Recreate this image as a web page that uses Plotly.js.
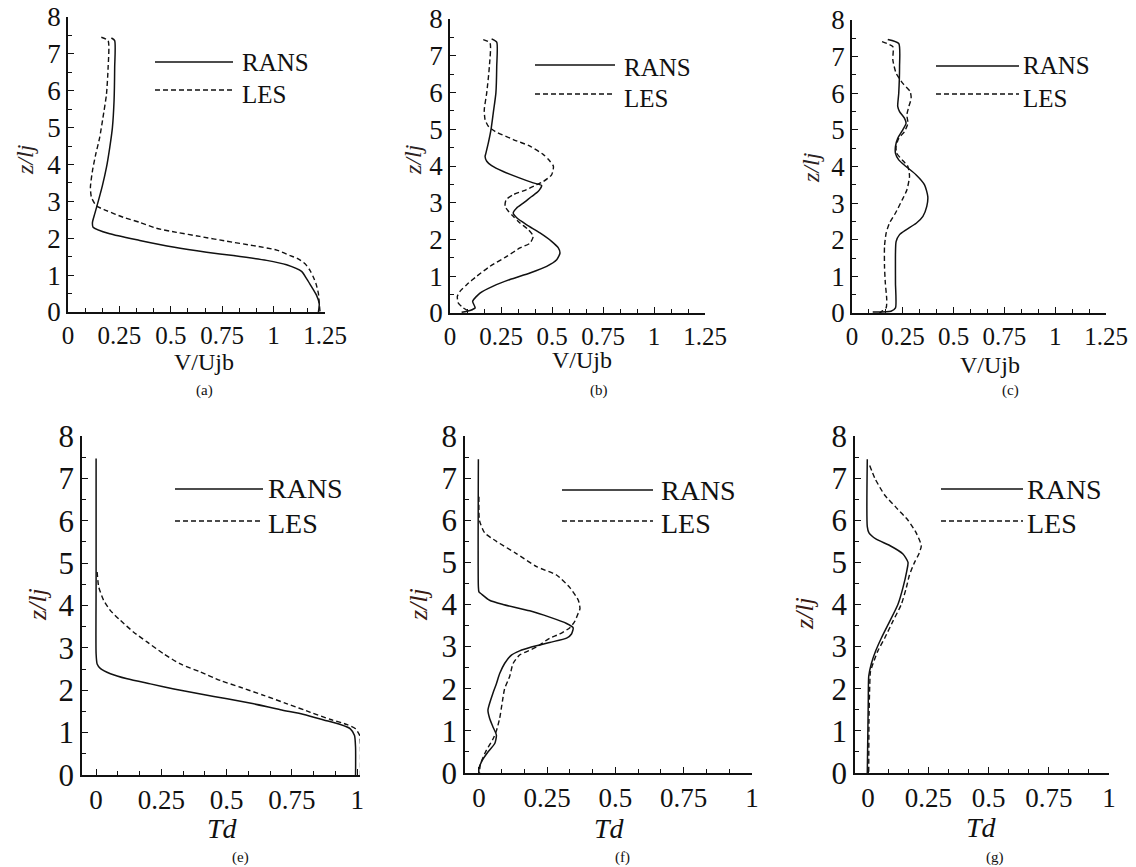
<!DOCTYPE html>
<html>
<head>
<meta charset="utf-8">
<script src="https://cdn.plot.ly/plotly-3.0.1.min.js"></script>
</head>
<body style="margin:0">
<div id="chart" style="width:1136px;height:867px"></div>
<script>
// ---------- data ----------
// (a) V/Ujb
const aRansX = [0.211,0.227,0.227,0.224,0.216,0.203,0.187,0.167,0.148,0.130,0.119,0.122,0.203,0.349,0.511,0.674,0.804,0.966,1.063,1.136,1.161,1.185,1.209,1.222,1.218];
const aRansZ = [7.43,7.36,6.62,5.72,5.00,4.46,3.92,3.42,3.02,2.66,2.43,2.30,2.12,1.94,1.76,1.62,1.53,1.40,1.28,1.10,0.90,0.68,0.45,0.23,0.00];
const aLesX = [0.162,0.195,0.195,0.187,0.170,0.154,0.135,0.119,0.109,0.114,0.138,0.187,0.268,0.349,0.430,0.528,0.641,0.771,0.901,1.015,1.080,1.120,1.153,1.177,1.193,1.206,1.218,1.222,1.226];
const aLesZ = [7.45,7.36,6.62,5.90,5.27,4.73,4.28,3.83,3.38,3.11,2.88,2.75,2.57,2.43,2.27,2.16,2.05,1.92,1.80,1.68,1.53,1.44,1.31,1.13,0.95,0.77,0.50,0.23,0.00];
// (b) V/Ujb
const bRansX = [0.204,0.229,0.229,0.225,0.212,0.201,0.188,0.176,0.172,0.180,0.204,0.261,0.343,0.408,0.449,0.433,0.400,0.359,0.327,0.310,0.327,0.376,0.441,0.498,0.531,0.539,0.523,0.474,0.392,0.294,0.212,0.147,0.111,0.123,0.098,0.057];
const bRansZ = [7.46,7.37,6.71,5.99,5.44,4.99,4.63,4.35,4.26,4.13,4.01,3.85,3.67,3.54,3.47,3.31,3.17,2.99,2.86,2.72,2.59,2.40,2.18,1.95,1.77,1.63,1.45,1.27,1.09,0.91,0.73,0.54,0.32,0.14,0.07,0.02];
const bLesX = [0.163,0.196,0.193,0.180,0.168,0.172,0.188,0.221,0.310,0.392,0.458,0.490,0.507,0.498,0.458,0.425,0.376,0.310,0.275,0.270,0.286,0.310,0.343,0.384,0.408,0.392,0.343,0.278,0.196,0.131,0.082,0.049,0.036,0.041,0.065,0.098];
const bLesZ = [7.44,7.35,6.71,5.99,5.53,5.26,5.08,4.94,4.72,4.54,4.31,4.13,3.99,3.76,3.58,3.49,3.36,3.22,3.08,2.90,2.77,2.63,2.45,2.27,2.09,1.90,1.77,1.54,1.27,1.00,0.77,0.59,0.45,0.27,0.14,0.03];
// (c) V/Ujb
const cRansX = [0.176,0.230,0.234,0.230,0.225,0.234,0.258,0.266,0.250,0.225,0.214,0.214,0.230,0.266,0.316,0.357,0.373,0.368,0.349,0.316,0.266,0.234,0.217,0.214,0.214,0.214,0.192,0.102];
const cRansZ = [7.47,7.36,6.73,6.00,5.64,5.50,5.32,5.18,5.00,4.77,4.55,4.36,4.18,4.00,3.77,3.50,3.18,2.91,2.64,2.45,2.27,2.14,1.95,1.64,0.82,0.14,0.05,0.03];
const cLesX = [0.148,0.201,0.201,0.217,0.250,0.286,0.291,0.280,0.270,0.275,0.258,0.230,0.217,0.220,0.247,0.275,0.283,0.270,0.247,0.214,0.184,0.168,0.160,0.160,0.164,0.171,0.168,0.148,0.135];
const cLesZ = [7.41,7.27,6.91,6.55,6.27,6.05,5.86,5.64,5.41,5.18,4.95,4.77,4.55,4.36,4.18,4.00,3.73,3.36,3.09,2.73,2.45,2.18,1.82,1.27,0.82,0.36,0.14,0.05,0.00];
// (e) Td
const eRansX = [0,0,0,0.004,0.017,0.055,0.119,0.208,0.298,0.400,0.502,0.604,0.706,0.796,0.872,0.936,0.974,0.990,0.994,0.994];
const eRansZ = [7.47,4.44,2.86,2.62,2.51,2.39,2.27,2.15,2.03,1.91,1.80,1.68,1.54,1.43,1.30,1.19,1.09,0.93,0.65,0.00];
const eLesX = [0.004,0.010,0.029,0.055,0.093,0.144,0.195,0.259,0.323,0.400,0.476,0.553,0.642,0.732,0.821,0.898,0.962,0.994,1.010,1.013,1.013];
const eLesZ = [4.79,4.44,4.12,3.88,3.65,3.37,3.14,2.86,2.62,2.43,2.23,2.07,1.88,1.68,1.48,1.31,1.19,1.09,0.93,0.65,0.00];
// (f) Td
const fRansX = [-0.002,-0.002,0.000,0.009,0.039,0.088,0.186,0.259,0.321,0.345,0.339,0.321,0.259,0.192,0.149,0.119,0.094,0.076,0.064,0.051,0.039,0.033,0.039,0.051,0.064,0.058,0.033,0.012,0.000,0.000];
const fRansZ = [7.45,4.42,4.30,4.25,4.10,4.00,3.85,3.70,3.55,3.45,3.30,3.20,3.10,2.99,2.90,2.80,2.60,2.36,2.12,1.89,1.65,1.49,1.30,1.10,0.90,0.70,0.50,0.30,0.10,0.00];
const fLesX = [0.000,0.002,0.021,0.064,0.137,0.211,0.284,0.333,0.364,0.370,0.364,0.351,0.333,0.296,0.259,0.211,0.149,0.125,0.113,0.094,0.086,0.076,0.064,0.051,0.024,0.005,0.002];
const fLesZ = [6.56,6.00,5.70,5.50,5.21,4.90,4.70,4.40,4.10,3.90,3.80,3.60,3.45,3.30,3.20,2.99,2.80,2.60,2.30,2.00,1.70,1.30,1.00,0.80,0.50,0.20,0.00];
// (g) Td
const gRansX = [-0.003,-0.003,0.004,0.034,0.090,0.145,0.166,0.161,0.145,0.124,0.090,0.055,0.032,0.014,0.003,0.001,-0.003];
const gRansZ = [7.45,5.85,5.70,5.55,5.40,5.20,5.00,4.80,4.40,4.00,3.60,3.20,2.90,2.60,2.30,1.66,0.00];
const gLesX = [0.007,0.028,0.069,0.117,0.166,0.200,0.221,0.211,0.193,0.172,0.159,0.138,0.103,0.069,0.041,0.021,0.010,0.007,0.004,0.003];
const gLesZ = [7.30,7.00,6.60,6.30,6.00,5.70,5.40,5.20,5.00,4.70,4.40,4.00,3.60,3.20,2.90,2.60,2.40,2.05,1.26,0.00];

const seriesNames = ['RANS','LES'];
const panelLabels = ['(a)','(b)','(c)','(e)','(f)','(g)'];
const topXTicks = [0,0.25,0.5,0.75,1,1.25];
const botXTicks = [0,0.25,0.5,0.75,1];
const yTicks = [0,1,2,3,4,5,6,7,8];

// ---------- layout helpers ----------
const W = 1136, H = 867;
const px = v => v / W;
const py = v => 1 - v / H;
const INK = '#111';
const fnt = (size, color) => ({family: 'Liberation Serif', size: size, color: color || INK});

const panels = [
  {box:[68,325,17,312],  xr:[0,1.25],   ticks:topXTicks, row:0},
  {box:[450,705,19,313], xr:[0,1.25],   ticks:topXTicks, row:0},
  {box:[852,1106,20,313],xr:[0,1.25],   ticks:topXTicks, row:0},
  {box:[82,360,436,775], xr:[-0.054,1.011], ticks:botXTicks, row:1},
  {box:[465,752,436,773],xr:[-0.051,1.0],   ticks:botXTicks, row:1},
  {box:[855,1109,436,773],xr:[-0.054,1.0],  ticks:botXTicks, row:1}
];
const data = [
  [aRansX,aRansZ,aLesX,aLesZ],
  [bRansX,bRansZ,bLesX,bLesZ],
  [cRansX,cRansZ,cLesX,cLesZ],
  [eRansX,eRansZ,eLesX,eLesZ],
  [fRansX,fRansZ,fLesX,fLesZ],
  [gRansX,gRansZ,gLesX,gLesZ]
];

const traces = [];
const layout = {
  width: W, height: H,
  margin: {l:0,r:0,t:0,b:0},
  showlegend: false,
  annotations: [], shapes: []
};
panels.forEach((p, i) => {
  const n = i === 0 ? '' : String(i + 1);
  const d = data[i];
  const big = p.row === 1;
  traces.push({x: d[0], y: d[1], xaxis: 'x' + n, yaxis: 'y' + n, name: seriesNames[0], mode: 'lines',
    line: {color: INK, width: 1.5, shape: 'spline', smoothing: 0.6}, hoverinfo: 'skip'});
  traces.push({x: d[2], y: d[3], xaxis: 'x' + n, yaxis: 'y' + n, name: seriesNames[1], mode: 'lines',
    line: {color: INK, width: 1.4, dash: '5px,3px', shape: 'spline', smoothing: 0.6}, hoverinfo: 'skip'});
  const [L, R, T, B] = p.box;
  layout['xaxis' + n] = {
    domain: [px(L), px(R)], range: p.xr, anchor: 'y' + n,
    showline: true, linecolor: INK, linewidth: 1.5, showgrid: false, zeroline: false,
    tickmode: 'array', tickvals: p.ticks, ticktext: p.ticks.map(String),
    ticks: 'inside', ticklen: 6, tickwidth: 1.3, tickcolor: INK,
    minor: {ticks: 'inside', ticklen: 4, tickwidth: 1, tickcolor: INK, tick0: 0, dtick: 0.25 / 3, showgrid: false},
    tickfont: fnt(big ? 27 : 25),
    fixedrange: true
  };
  layout['yaxis' + n] = {
    domain: [py(B), py(T)], range: [0, 8], anchor: 'x' + n,
    showline: true, linecolor: INK, linewidth: 1.5, showgrid: false, zeroline: false,
    tickmode: 'array', tickvals: yTicks, ticktext: yTicks.map(String),
    ticks: 'inside', ticklen: 6, tickwidth: 1.3, tickcolor: INK,
    minor: {ticks: 'inside', ticklen: 4, tickwidth: 1, tickcolor: INK, tick0: 0, dtick: 0.5, showgrid: false},
    tickfont: fnt(big ? 31 : 27),
    fixedrange: true
  };
});

const ann = (x, y, text, font, extra) => Object.assign({
  xref: 'paper', yref: 'paper', x: px(x), y: py(y), text: text, showarrow: false,
  xanchor: 'center', yanchor: 'middle', font: font
}, extra || {});

[[204,362],[582,360],[990,365]].forEach(c => layout.annotations.push(ann(c[0], c[1], 'V/Ujb', fnt(24))));
[[222,828],[609,828],[981,827]].forEach(c => layout.annotations.push(ann(c[0], c[1], '<i>Td</i>', fnt(28))));
const zTitle = [[25,160,'#2a2222',24],[413,160,'#2a2222',24],[811,168,'#2a2222',24],[37,605,'#3a1a12',26],[418,605,'#3a1a12',26],[804,613,'#3a1a12',26]];
zTitle.forEach(c => layout.annotations.push(ann(c[0], c[1], '<i>z/lj</i>', fnt(c[3], c[2]), {textangle: -90})));
const capPos = [[204,391],[599,390],[1010,390],[240,857],[622,857],[995,857]];
capPos.forEach((c, i) => layout.annotations.push(ann(c[0], c[1], panelLabels[i], fnt(15))));

const legPos = [
  {x0:155,x1:233,y1:62,y2:90,tx:240,ty1:62,ty2:95,fs:25},
  {x0:535,x1:615,y1:65,y2:94,tx:622,ty1:67,ty2:99,fs:25},
  {x0:936,x1:1019,y1:66,y2:94,tx:1021,ty1:65,ty2:98,fs:25},
  {x0:175,x1:263,y1:489,y2:521,tx:266,ty1:488,ty2:523,fs:28},
  {x0:562,x1:653,y1:490,y2:521,tx:659,ty1:490,ty2:523,fs:28},
  {x0:941,x1:1023,y1:489,y2:521,tx:1025,ty1:489,ty2:523,fs:28}
];
legPos.forEach(l => {
  layout.shapes.push({type: 'line', xref: 'paper', yref: 'paper', x0: px(l.x0), x1: px(l.x1), y0: py(l.y1), y1: py(l.y1), line: {color: INK, width: 1.6}});
  layout.shapes.push({type: 'line', xref: 'paper', yref: 'paper', x0: px(l.x0), x1: px(l.x1), y0: py(l.y2), y1: py(l.y2), line: {color: INK, width: 1.4, dash: '5px,3px'}});
  layout.annotations.push(ann(l.tx, l.ty1, seriesNames[0], fnt(l.fs), {xanchor: 'left'}));
  layout.annotations.push(ann(l.tx, l.ty2, seriesNames[1], fnt(l.fs), {xanchor: 'left'}));
});

Plotly.newPlot('chart', traces, layout, {displayModeBar: false});
</script>
</body>
</html>
